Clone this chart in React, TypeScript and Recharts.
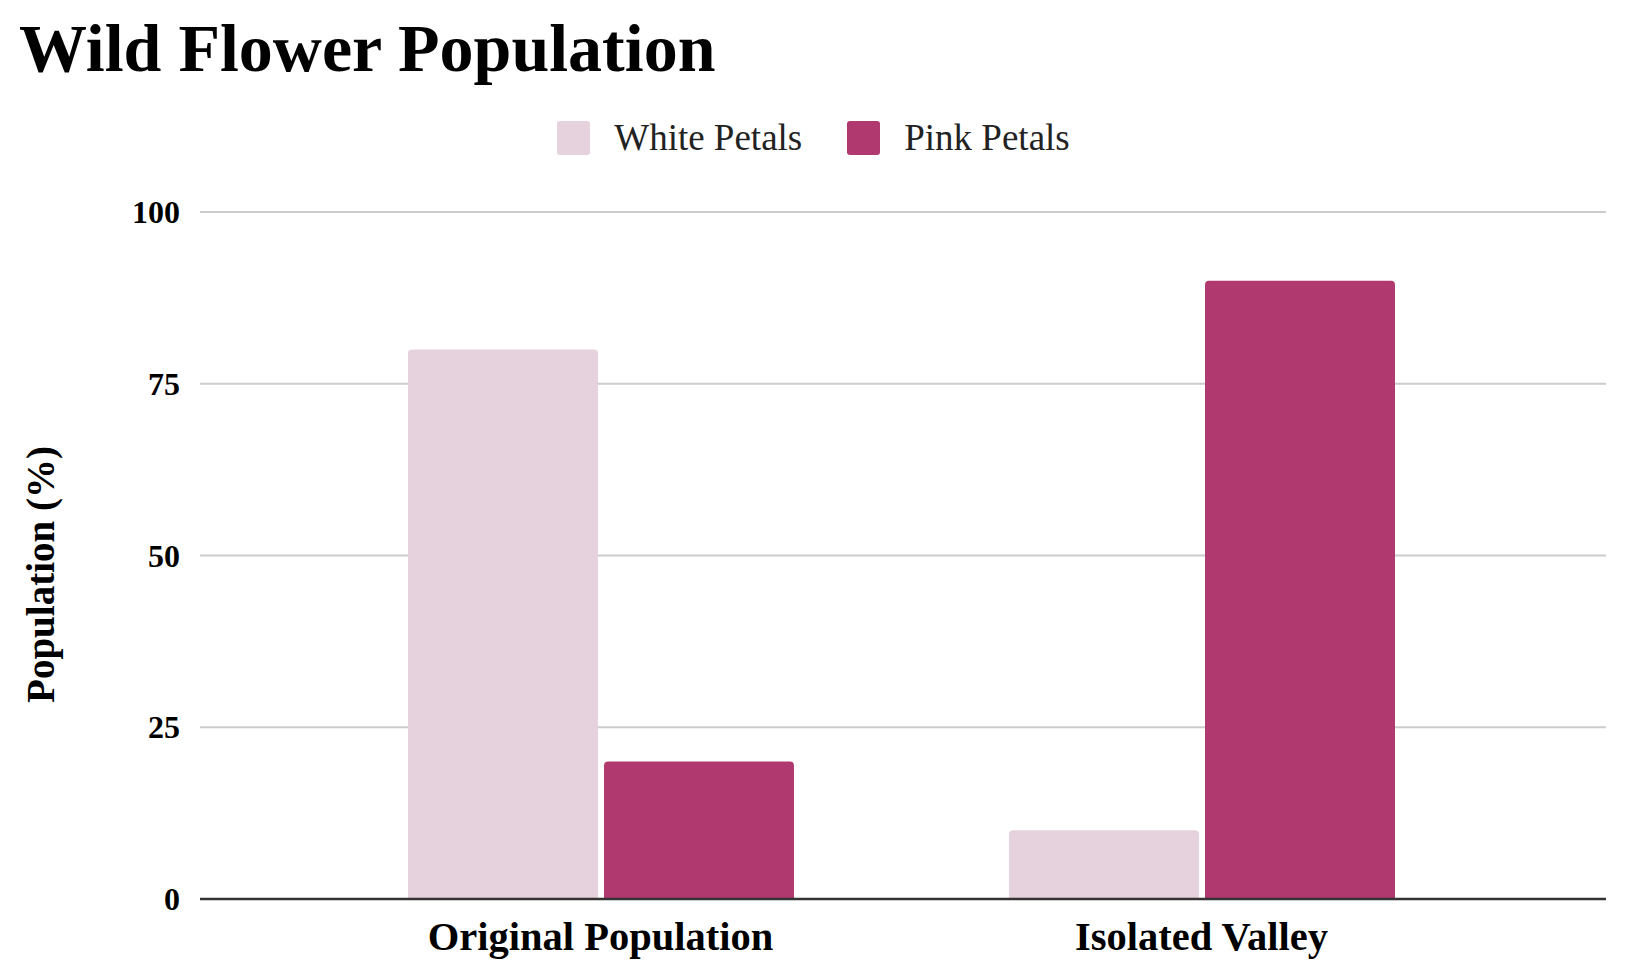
import React from "react";
import { BarChart, Bar, XAxis, YAxis, CartesianGrid, Legend } from "recharts";

const categories = ["Original Population", "Isolated Valley"];
const whitePetals = [80, 10];
const pinkPetals = [20, 90];
const seriesNames = ["White Petals", "Pink Petals"];
const yTicks = [0, 25, 50, 75, 100];

const WHITE = "#E6D2DD";
const PINK = "#B03A6F";
const FONT = "'Liberation Serif', 'DejaVu Serif', serif";

const data = categories.map((category, i) => ({
  category,
  white: whitePetals[i],
  pink: pinkPetals[i],
}));

// x-axis labels, bold, below the dark baseline
const XTick = (props: any) => {
  const { x, y, payload } = props;
  return (
    <text x={x} y={y} dy={49} textAnchor="middle" fontFamily={FONT} fontWeight="bold" fontSize={40.5} fill="#000">
      {payload.value}
    </text>
  );
};

const YTick = (props: any) => {
  const { x, y, payload } = props;
  return (
    <text x={x} y={y} dy={11} textAnchor="end" fontFamily={FONT} fontWeight="bold" fontSize={32} fill="#000">
      {payload.value}
    </text>
  );
};

const YLabel = (props: any) => {
  const { viewBox } = props;
  const cy = viewBox.y + viewBox.height / 2 + 19;
  return (
    <text
      x={40}
      y={cy}
      transform={`rotate(-90, 40, ${cy})`}
      textAnchor="middle"
      dominantBaseline="central"
      fontFamily={FONT}
      fontWeight="bold"
      fontSize={39}
      fill="#000"
    >
      Population (%)
    </text>
  );
};

const LegendContent = (props: any) => {
  const payload = [...(props.payload || [])].sort(
    (a: any, b: any) => seriesNames.indexOf(a.value) - seriesNames.indexOf(b.value)
  );
  return (
    <div style={{ display: "flex", justifyContent: "center", alignItems: "center" }}>
      {payload.map((entry: any, i: number) => (
        <div key={i} style={{ display: "flex", alignItems: "center", marginRight: i === 0 ? 45 : 0 }}>
          <div style={{ width: 33, height: 34, background: entry.color, borderRadius: 3, marginRight: 24 }} />
          <span style={{ fontFamily: FONT, fontSize: 37, color: "#222", lineHeight: "34px" }}>{entry.value}</span>
        </div>
      ))}
    </div>
  );
};

export default function App() {
  return (
    <div style={{ position: "absolute", left: 0, top: 0, width: 1638, height: 980, background: "#fff" }}>
      <div
        style={{
          position: "absolute",
          left: 19,
          top: 15,
          fontFamily: FONT,
          fontWeight: "bold",
          fontSize: 68,
          lineHeight: "66px",
          color: "#000",
          whiteSpace: "nowrap",
        }}
      >
        Wild Flower Population
      </div>
      <BarChart
        width={1638}
        height={980}
        data={data}
        margin={{ top: 212, right: 32, bottom: 11, left: 80 }}
        barCategoryGap={108}
        barGap={6}
      >
        <CartesianGrid horizontal vertical={false} stroke="#cccccc" strokeWidth={2} />
        <XAxis
          dataKey="category"
          height={70}
          padding={{ left: 100, right: 104 }}
          axisLine={{ stroke: "#333", strokeWidth: 2.5 }}
          tickLine={false}
          tickSize={0}
          tick={<XTick />}
          interval={0}
        />
        <YAxis
          width={120}
          domain={[0, 100]}
          ticks={yTicks}
          axisLine={false}
          tickLine={false}
          tickSize={0}
          tickMargin={20}
          tick={<YTick />}
          label={<YLabel />}
        />
        <Legend
          layout="horizontal"
          align="center"
          verticalAlign="middle"
          wrapperStyle={{ top: 121, left: 0, width: 1627 }}
          content={<LegendContent />}
        />
        <Bar dataKey="white" name={seriesNames[0]} fill={WHITE} radius={[4, 4, 0, 0]} isAnimationActive={false} />
        <Bar dataKey="pink" name={seriesNames[1]} fill={PINK} radius={[4, 4, 0, 0]} isAnimationActive={false} />
      </BarChart>
    </div>
  );
}
